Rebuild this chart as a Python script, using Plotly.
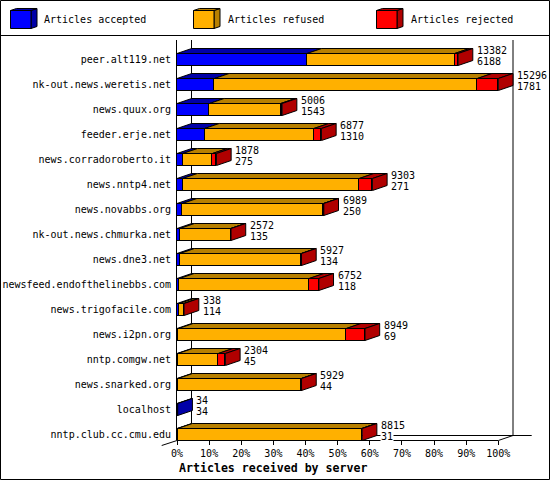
# Articles received by server: flat pseudo 3D stacked bars, as innreport draws them.
import plotly.graph_objects as go

servers = ['peer.alt119.net', 'nk-out.news.weretis.net', 'news.quux.org', 'feeder.erje.net',
	'news.corradoroberto.it', 'news.nntp4.net', 'news.novabbs.org', 'nk-out.news.chmurka.net',
	'news.dne3.net', 'newsfeed.endofthelinebbs.com', 'news.trigofacile.com', 'news.i2pn.org',
	'nntp.comgw.net', 'news.snarked.org', 'localhost', 'nntp.club.cc.cmu.edu']
accepted = [6188, 1781, 1543, 1310, 275, 271, 250, 135, 134, 118, 114, 69, 45, 44, 34, 31]
refused = [7034, 12515, 3393, 5207, 1413, 8402, 6724, 2427, 5783, 6174, 219, 7990, 1919, 5875, 0, 8764]
rejected = [160, 1000, 70, 360, 190, 630, 15, 10, 10, 460, 5, 890, 340, 10, 0, 20]
legend_names = ['Articles accepted', 'Articles refused', 'Articles rejected']
front_colors = ['#0000ff', '#ffb000', '#ff0000']
dark_colors = ['#0000a8', '#b88000', '#b00000']
x_ticks = list(range(0, 101, 10))

W, H = 550, 480
MONO = 'DejaVu Sans Mono'
LEFT, RIGHT, TOP, BOTTOM = 177, 498.3, 40, 440
X_MAX = 110	# room on the right for the depth of the longest bar, scatter fills are always clipped
DEPTH_X = 14.7 * 100 / (RIGHT - LEFT)	# depth of a bar, in percent
DEPTH_Y = 5 / 25	# and in categories
BAR = 0.24

def px(x):
	return x / W

def py(y):
	return 1 - y / H

def line(x0, y0, x1, y1):
	return dict(type='line', xref='paper', yref='paper', x0=px(x0), y0=py(y0), x1=px(x1), y1=py(y1),
		line=dict(color='black', width=1), layer='below')

totals = [a + b + c for a, b, c in zip(accepted, refused, rejected)]
biggest = max(totals)
series = [accepted, refused, rejected]

fig = go.Figure()

# front faces
for s, values in enumerate(series):
	fig.add_trace(go.Bar(y=list(range(len(servers))), x=[v * 100 / biggest for v in values],
		orientation='h', width=BAR * 2, marker=dict(color=front_colors[s], line=dict(color='black', width=1)),
		name=legend_names[s], showlegend=False, hoverinfo='skip'))

# top and side faces, one trace per colour
top_x, top_y = [[], [], []], [[], [], []]
side_x, side_y = [[], [], []], [[], [], []]
for i in range(len(servers)):
	start = 0
	last = 0
	for s, values in enumerate(series):
		if values[i] == 0:
			continue
		end = start + values[i] * 100 / biggest
		y0 = i - BAR
		top_x[s] += [start, end, end + DEPTH_X, start + DEPTH_X, start, None]
		top_y[s] += [y0, y0, y0 - DEPTH_Y, y0 - DEPTH_Y, y0, None]
		start = end
		last = s
	y0, y1 = i - BAR, i + BAR
	side_x[last] += [start, start + DEPTH_X, start + DEPTH_X, start, start, None]
	side_y[last] += [y0, y0 - DEPTH_Y, y1 - DEPTH_Y, y1, y0, None]

for s in range(3):
	for xs, ys in ((top_x[s], top_y[s]), (side_x[s], side_y[s])):
		if xs:
			fig.add_trace(go.Scatter(x=xs, y=ys, mode='lines', fill='toself', fillcolor=dark_colors[s],
				line=dict(color='black', width=1), showlegend=False, hoverinfo='skip'))

annotations = []
for i in range(len(servers)):
	x = totals[i] * 100 / biggest + DEPTH_X
	annotations.append(dict(x=x, y=i, xref='x', yref='y', text=str(accepted[i]), showarrow=False, xanchor='left',
		xshift=3, yshift=-1.5, bgcolor='white', borderpad=0, font=dict(family=MONO, size=10, color='black')))
	annotations.append(dict(x=x, y=i, xref='x', yref='y', text=str(totals[i]), showarrow=False, xanchor='left',
		xshift=3, yshift=9, borderpad=0, font=dict(family=MONO, size=10, color='black')))

annotations.append(dict(x=px(272.5), y=py(467.5), xref='paper', yref='paper', text='<b>Articles received by server</b>',
	showarrow=False, yanchor='middle', font=dict(family=MONO, size=11.6, color='black')))

# frame
shapes = [
	dict(type='rect', xref='paper', yref='paper', x0=px(0.5), y0=py(0.5), x1=px(549.5), y1=py(479.5),
		line=dict(color='black', width=1), layer='below'),
	line(0, 35.5, 550, 35.5),
	line(191.5, 40, 191.5, 435.5),
	line(513, 40, 513, 435.5),
	line(191.5, 435.5, 531.7, 435.5),
	line(177, 440.5, 498.3, 440.5),
	line(498.3, 440.5, 513, 435.5),
	line(161.7, 445.5, 177, 440.5),
]

# legend
legend_left = [10.5, 193.5, 376.5]
text_left = [42.3, 225.5, 408.5]
for s in range(3):
	x0 = legend_left[s]
	x1 = x0 + 20.5
	shapes.append(dict(type='path', xref='paper', yref='paper', fillcolor=dark_colors[s], line=dict(color='black', width=1),
		path='M %f %f L %f %f L %f %f L %f %f Z' % (px(x1), py(10.5), px(x1 + 6), py(8.5), px(x1 + 6), py(26.5), px(x1), py(28.5))))
	shapes.append(dict(type='path', xref='paper', yref='paper', fillcolor=dark_colors[s], line=dict(color='black', width=1),
		path='M %f %f L %f %f L %f %f L %f %f Z' % (px(x0), py(10.5), px(x0 + 6), py(8.5), px(x1 + 6), py(8.5), px(x1), py(10.5))))
	shapes.append(dict(type='rect', xref='paper', yref='paper', x0=px(x0), y0=py(10.5), x1=px(x1), y1=py(28.5),
		fillcolor=front_colors[s], line=dict(color='black', width=1)))
	annotations.append(dict(x=px(text_left[s]), y=py(20), xref='paper', yref='paper', text=legend_names[s], showarrow=False,
		xanchor='left', yanchor='middle', font=dict(family=MONO, size=10, color='black')))

fig.update_layout(
	width=W, height=H, margin=dict(l=0, r=0, t=0, b=0, pad=0, autoexpand=False),
	paper_bgcolor='white', plot_bgcolor='white', barmode='stack', bargap=0, showlegend=False,
	shapes=shapes, annotations=annotations,
	xaxis=dict(domain=[px(LEFT), px(LEFT + (RIGHT - LEFT) * X_MAX / 100)], range=[0, X_MAX], tickvals=x_ticks, ticktext=['%d%%' % t for t in x_ticks],
		ticks='outside', ticklen=4, tickcolor='black', showgrid=False, zeroline=False,
		showline=False, tickangle=0, tickfont=dict(family=MONO, size=10, color='black')),
	yaxis=dict(domain=[py(BOTTOM), py(TOP)], range=[15.22, -0.78], tickvals=list(range(len(servers))), ticktext=servers,
		ticks='outside', ticklen=3, tickcolor='rgba(0,0,0,0)', showgrid=False, zeroline=False,
		showline=True, linecolor='black', linewidth=1, tickfont=dict(family=MONO, size=10, color='black')),
)

fig.write_html('out.html', config=dict(displayModeBar=False), post_script="document.body.style.margin='0';")
